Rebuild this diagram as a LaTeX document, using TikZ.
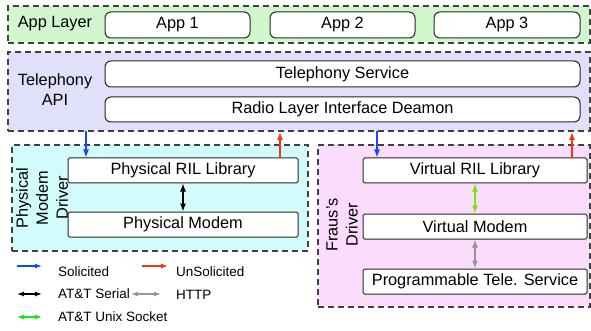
\documentclass[tikz,border=0pt]{standalone}
\usepackage{fontspec}
\setmainfont{Liberation Sans}
\usepackage{tikz}
\usetikzlibrary{calc, positioning, shapes, arrows, arrows.meta}

\definecolor{appgreen}{RGB}{208,248,204}
\definecolor{apilav}{RGB}{224,224,250}
\definecolor{physcyan}{RGB}{210,252,252}
\definecolor{fraupink}{RGB}{252,220,252}
\definecolor{solblue}{RGB}{20,70,255}
\definecolor{unsred}{RGB}{255,50,20}
\definecolor{unixgreen}{RGB}{20,230,20}
\definecolor{sockgreen}{RGB}{125,230,0}
\definecolor{httpgrey}{RGB}{150,150,150}

\begin{document}
\begin{tikzpicture}[x=1pt,y=-1pt,
  region/.style={draw=black!75, line width=1.3pt, dash pattern=on 6pt off 4pt, inner sep=0pt},
  rbox/.style={draw=black!85, line width=1pt, rounded corners=6pt, fill=white, inner sep=0pt,
    font=\fontsize{16.3}{18}\selectfont},
  sbox/.style={draw=black!85, line width=1pt, rounded corners=1.5pt, fill=white, inner sep=0pt,
    font=\fontsize{16.3}{18}\selectfont},
  lbl/.style={font=\fontsize{16.3}{20}\selectfont, align=center, inner sep=0pt},
  leg/.style={font=\fontsize{13.5}{16}\selectfont, anchor=west, inner sep=0pt},
  one/.style={line width=1.2pt, -{Latex[length=8pt,width=6pt]}},
  two/.style={line width=1.2pt, {Latex[length=8pt,width=6pt]}-{Latex[length=8pt,width=6pt]}},
  legone/.style={line width=1.2pt, -{Latex[length=7pt,width=5pt]}},
  legtwo/.style={line width=1.2pt, {Latex[length=7pt,width=5pt]}-{Latex[length=7pt,width=5pt]}}]
\useasboundingbox (0,0) rectangle (591,331);

% layers
\node[region, fill=appgreen, minimum width=582pt, minimum height=37pt] (applayer) at (299,24.5) {};
\node[region, fill=apilav, minimum width=582pt, minimum height=79pt] (telapi) at (299,91.5) {};
\node[region, fill=physcyan, minimum width=296pt, minimum height=106pt] (physdrv) at (160,198) {};
\node[region, fill=fraupink, minimum width=272pt, minimum height=162pt] (fdrv) at (454,226) {};

\node[lbl] (applbl) at (55,24) {App Layer};
\node[lbl] (apilbl) at (55,90) {Telephony\\API};
\node[lbl, rotate=90] (physlbl) at (42,198) {Physical\\Modem\\Driver};
\node[lbl, rotate=90] (flbl) at (342,225) {Fraus's\\Driver};

% boxes
\node[rbox, minimum width=145pt, minimum height=26pt] (app1) at (177.5,25) {App 1};
\node[rbox, minimum width=145pt, minimum height=26pt] (app2) at (342.5,25) {App 2};
\node[rbox, minimum width=146pt, minimum height=26pt] (app3) at (507,25) {App 3};
\node[rbox, minimum width=475pt, minimum height=26pt] (telsvc) at (342.5,74) {Telephony Service};
\node[rbox, minimum width=475pt, minimum height=25pt] (rild) at (342.5,109.5) {Radio Layer Interface Deamon};

\node[sbox, minimum width=230pt, minimum height=25pt] (physril) at (183,170.5) {Physical RIL Library};
\node[sbox, minimum width=230pt, minimum height=25pt] (physmodem) at (183,224.5) {Physical Modem};
\node[sbox, minimum width=224pt, minimum height=25pt] (virtril) at (475,170.5) {Virtual RIL Library};
\node[sbox, minimum width=224pt, minimum height=25pt] (virtmodem) at (475,226.5) {Virtual Modem};
\node[sbox, minimum width=224pt, minimum height=25pt] (pts) at (475,281.5) {Programmable Tele. Service};

% requests and indications
\coordinate (solphys) at (86,131);
\coordinate (unsphys) at (280,132);
\coordinate (solvirt) at (377,131);
\coordinate (unsvirt) at (572,132);
\draw[one, solblue] (solphys) -- (solphys |- physril.north);
\draw[one, unsred] (unsphys |- physril.north) -- (unsphys);
\draw[one, solblue] (solvirt) -- (solvirt |- virtril.north);
\draw[one, unsred] (unsvirt |- virtril.north) -- (unsvirt);

\draw[two, black] (physril) -- (physmodem);
\draw[two, sockgreen] (virtril) -- (virtmodem);
\draw[two, httpgrey] (virtmodem) -- (pts);

% legend
\coordinate (l1a) at (17,266); \coordinate (l1b) at (42,266);
\coordinate (l2a) at (142,266); \coordinate (l2b) at (168,266);
\coordinate (l3a) at (17,294); \coordinate (l3b) at (42,294);
\coordinate (l4a) at (131,294); \coordinate (l4b) at (161,294);
\coordinate (l5a) at (17,317); \coordinate (l5b) at (42,317);
\draw[legone, solblue] (l1a) -- (l1b);
\draw[legone, unsred] (l2a) -- (l2b);
\draw[legtwo, black] (l3a) -- (l3b);
\draw[legtwo, httpgrey] (l4a) -- (l4b);
\draw[legtwo, unixgreen] (l5a) -- (l5b);
\node[leg] (solic) at (58,272) {Solicited};
\node[leg] (unsolic) at (176,272) {UnSolicited};
\node[leg] (serial) at (58,294) {AT\&T Serial};
\node[leg] (http) at (176,295) {HTTP};
\node[leg] (unixsock) at (58,317) {AT\&T Unix Socket};
\end{tikzpicture}
\end{document}
